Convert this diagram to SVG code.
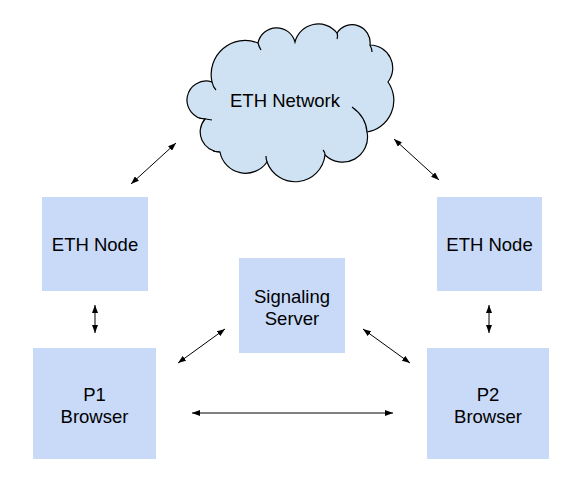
<svg xmlns="http://www.w3.org/2000/svg" width="585" height="484" viewBox="0 0 585 484">
<style>
.box{fill:#c9daf8;stroke:none}
.lbl{font-family:"Liberation Sans",Arial,sans-serif;font-size:18.5px;fill:#000;text-anchor:middle}
.cloud{fill:#cfe2f3;stroke:#000;stroke-width:1.2}
.inner{fill:none;stroke:#000;stroke-width:1.2}
.conn{stroke:#000;stroke-width:1;fill:none;marker-start:url(#ah);marker-end:url(#ah)}
</style>
<defs>
<marker id="ah" markerUnits="userSpaceOnUse" markerWidth="8" markerHeight="6" refX="8" refY="3" orient="auto-start-reverse">
<path d="M0,0 L8,3 L0,6 z" fill="#000"/>
</marker>
</defs>
<rect width="585" height="484" fill="#fff"/>
<g id="eth-network">
<path class="cloud" d="M205,119 A19 19 0 1 1 212,82 A34 34 0 0 1 258,43 A19 19 0 0 1 295,42 A24 24 0 0 1 337,33 A18 18 0 0 1 370,45 A23 23 0 0 1 388,82 A32 32 0 0 1 367,132 A25 25 0 0 1 325,155 A30 30 0 0 1 267,162 A26 26 0 0 1 220,152 A20 20 0 0 1 205,119 Z"/>
<path class="inner" d="M212,82 Q213,87 216,90 M258,43 Q259,47 261,50 M337,33 Q338,36 337,39 M370,45 Q372,49 372,52 M352,107 Q366,117 367,132 M267,162 Q266,159 266,156 M220,152 Q217,152 213,151 M325,155 Q325,152 323,150 M199,118 Q206,119 212,120"/>
<text class="lbl" x="285" y="106.5">ETH Network</text>
</g>
<g id="eth-node-left">
<rect class="box" x="42" y="197" width="106" height="94"/>
<text class="lbl" x="95" y="251">ETH Node</text>
</g>
<g id="eth-node-right">
<rect class="box" x="437" y="197" width="105" height="94"/>
<text class="lbl" x="489.5" y="251">ETH Node</text>
</g>
<g id="signaling-server">
<rect class="box" x="239" y="258" width="106" height="95"/>
<text class="lbl" x="292" y="302.5">Signaling</text>
<text class="lbl" x="292" y="324.5">Server</text>
</g>
<g id="p1-browser">
<rect class="box" x="33" y="348" width="123" height="111"/>
<text class="lbl" x="94.5" y="400.5">P1</text>
<text class="lbl" x="94.5" y="423">Browser</text>
</g>
<g id="p2-browser">
<rect class="box" x="427" y="348" width="122" height="111"/>
<text class="lbl" x="488" y="400.5">P2</text>
<text class="lbl" x="488" y="423">Browser</text>
</g>
<g id="connectors">
<line class="conn" x1="131" y1="184" x2="176" y2="143"/>
<line class="conn" x1="394" y1="139" x2="439" y2="180"/>
<line class="conn" x1="95" y1="305" x2="95" y2="333"/>
<line class="conn" x1="489" y1="305" x2="489" y2="333"/>
<line class="conn" x1="178" y1="363" x2="225" y2="329"/>
<line class="conn" x1="363" y1="329" x2="410" y2="363"/>
<line class="conn" x1="192" y1="413" x2="393" y2="413"/>
</g>
</svg>
